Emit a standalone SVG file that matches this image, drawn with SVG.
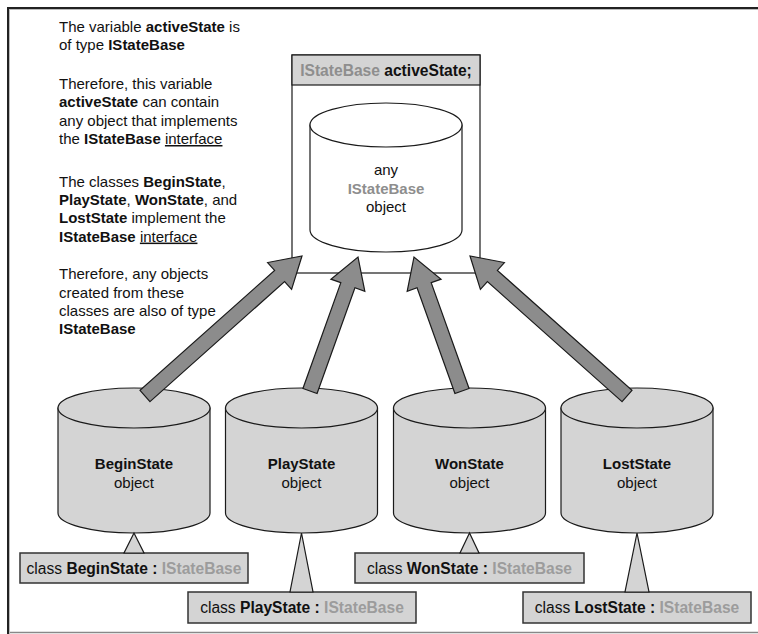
<svg xmlns="http://www.w3.org/2000/svg" width="758" height="634" viewBox="0 0 758 634">
<style>
text{font-family:"Liberation Sans",Arial,sans-serif;font-size:15px;fill:#111}
.b{font-weight:bold}
.g{fill:#8e8e8e;font-weight:bold}
.gl{fill:#9c9c9c;font-weight:bold}
.u{text-decoration:underline}
.lg{font-size:15.6px}
.cyl{fill:#d4d4d4;stroke:#1a1a1a;stroke-width:1.2}
.wcyl{fill:#fff;stroke:#1a1a1a;stroke-width:1.2}
.box{fill:#d4d4d4;stroke:#333;stroke-width:1.5}
.tri{fill:#d4d4d4;stroke:#1a1a1a;stroke-width:1.2;stroke-linejoin:miter}
.arr{fill:#8c8c8c;stroke:#1a1a1a;stroke-width:1.2;stroke-linejoin:miter}
.mid{text-anchor:middle}
</style>
<rect width="758" height="634" fill="#fff"/>
<g id="frame">
<line x1="7" y1="8" x2="758" y2="8" stroke="#222" stroke-width="2"/>
<line x1="9" y1="9.5" x2="758" y2="9.5" stroke="#bbb" stroke-width="1"/>
<line x1="8" y1="7" x2="8" y2="634" stroke="#222" stroke-width="2"/>
<line x1="9.5" y1="9" x2="9.5" y2="634" stroke="#bbb" stroke-width="1"/>
<line x1="10" y1="632.5" x2="758" y2="632.5" stroke="#888" stroke-width="1.5"/>
</g>
<g id="notes">
<text x="59" y="32">The variable <tspan class="b">activeState</tspan> is</text>
<text x="59" y="50">of type <tspan class="b">IStateBase</tspan></text>
<text x="59" y="89">Therefore, this variable</text>
<text x="59" y="107.3"><tspan class="b">activeState</tspan> can contain</text>
<text x="59" y="125.6">any object that implements</text>
<text x="59" y="144">the <tspan class="b">IStateBase</tspan> <tspan class="u">interface</tspan></text>
<text x="59" y="186.7">The classes <tspan class="b">BeginState</tspan>,</text>
<text x="59" y="205"><tspan class="b">PlayState</tspan>, <tspan class="b">WonState</tspan>, and</text>
<text x="59" y="223.3"><tspan class="b">LostState</tspan> implement the</text>
<text x="59" y="241.6"><tspan class="b">IStateBase</tspan> <tspan class="u">interface</tspan></text>
<text x="59" y="279.3">Therefore, any objects</text>
<text x="59" y="297.6">created from these</text>
<text x="59" y="316">classes are also of type</text>
<text x="59" y="334.3" class="b">IStateBase</text>
</g>
<g id="activeState">
<rect x="292" y="55" width="188" height="218" fill="#fff" stroke="#1a1a1a" stroke-width="1.2"/>
<rect x="292" y="55" width="188" height="30" fill="#d4d4d4" stroke="#1a1a1a" stroke-width="1.2"/>
<text x="386" y="75.5" class="mid b lg"><tspan class="g">IStateBase</tspan> activeState;</text>
<path class="wcyl" d="M310,125 L310,230 A76 22 0 0 0 462,230 L462,125 Z"/>
<ellipse class="wcyl" cx="386" cy="125" rx="76" ry="22"/>
<text x="386" y="175" class="mid">any</text>
<text x="386" y="194" class="mid g">IStateBase</text>
<text x="386" y="212" class="mid">object</text>
</g>
<g id="beginState">
<path class="cyl" d="M58,408 L58,513 A76 20 0 0 0 210,513 L210,408 Z"/>
<ellipse class="cyl" cx="134" cy="408" rx="76" ry="20"/>
<text x="134" y="469" class="mid b">BeginState</text>
<text x="134" y="487.5" class="mid">object</text>
</g>
<g id="playState">
<path class="cyl" d="M225.5,408 L225.5,513 A76 20 0 0 0 377.5,513 L377.5,408 Z"/>
<ellipse class="cyl" cx="301.5" cy="408" rx="76" ry="20"/>
<text x="301.5" y="469" class="mid b">PlayState</text>
<text x="301.5" y="487.5" class="mid">object</text>
</g>
<g id="wonState">
<path class="cyl" d="M393.5,408 L393.5,513 A76 20 0 0 0 545.5,513 L545.5,408 Z"/>
<ellipse class="cyl" cx="469.5" cy="408" rx="76" ry="20"/>
<text x="469.5" y="469" class="mid b">WonState</text>
<text x="469.5" y="487.5" class="mid">object</text>
</g>
<g id="lostState">
<path class="cyl" d="M561,408 L561,513 A76 20 0 0 0 713,513 L713,408 Z"/>
<ellipse class="cyl" cx="637" cy="408" rx="76" ry="20"/>
<text x="637" y="469" class="mid b">LostState</text>
<text x="637" y="487.5" class="mid">object</text>
</g>
<g id="classBeginState">
<rect class="box" x="20" y="553" width="228" height="30"/>
<text x="134" y="573.5" class="mid lg">class <tspan class="b">BeginState : </tspan><tspan class="gl">IStateBase</tspan></text>
</g>
<g id="classPlayState">
<rect class="box" x="188" y="592" width="228" height="31"/>
<text x="302" y="612.5" class="mid lg">class <tspan class="b">PlayState : </tspan><tspan class="gl">IStateBase</tspan></text>
</g>
<g id="classWonState">
<rect class="box" x="355" y="553" width="229" height="30"/>
<text x="469.5" y="573.5" class="mid lg">class <tspan class="b">WonState : </tspan><tspan class="gl">IStateBase</tspan></text>
</g>
<g id="classLostState">
<rect class="box" x="523" y="592" width="228" height="31"/>
<text x="637" y="612.5" class="mid lg">class <tspan class="b">LostState : </tspan><tspan class="gl">IStateBase</tspan></text>
</g>
<g id="connectors">
<polygon class="tri" points="134,533 124,553 144,553"/>
<polygon class="tri" points="301.5,533 290,592 313,592"/>
<polygon class="tri" points="469.5,533 460,553 479,553"/>
<polygon class="tri" points="637,533 625,592 649,592"/>
<polygon class="arr" points="149.99,401.60 284.60,281.56 291.59,289.39 302,256 267.63,262.53 274.62,270.36 140.01,390.40"/>
<polygon class="arr" points="317.06,393.53 354.94,287.77 364.83,291.31 358,257 330.93,279.17 340.82,282.71 302.94,388.47"/>
<polygon class="arr" points="454.94,393.53 417.06,287.77 407.17,291.31 414,257 441.07,279.17 431.18,282.71 469.06,388.47"/>
<polygon class="arr" points="622.01,401.60 487.40,281.56 480.41,289.39 470,256 504.37,262.53 497.38,270.36 631.99,390.40"/>
</g>
</svg>
